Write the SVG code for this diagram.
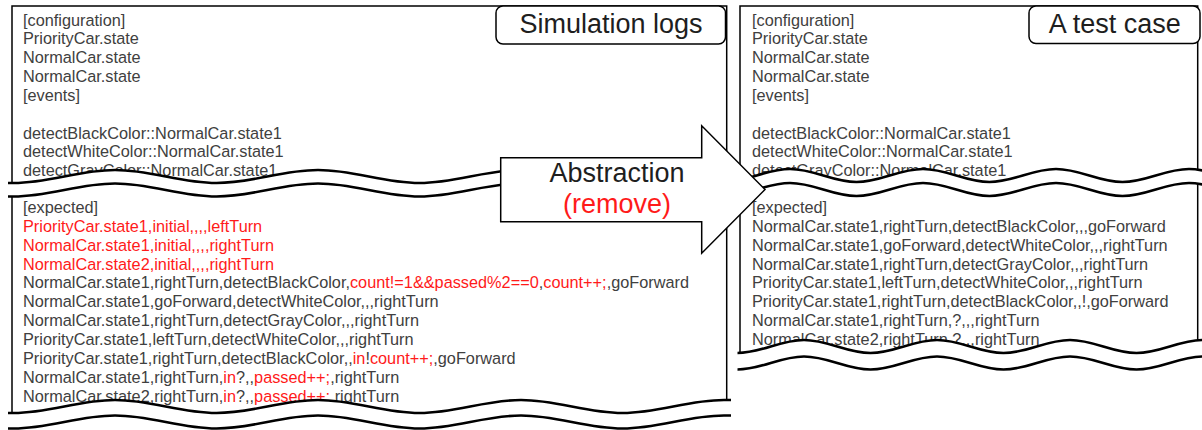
<svg xmlns="http://www.w3.org/2000/svg" xmlns:xlink="http://www.w3.org/1999/xlink" width="1202" height="430" viewBox="0 0 1202 430">
<style>
.t{font-family:"Liberation Sans",Arial,sans-serif;font-size:16.3px;fill:#404040}
.r{fill:#ff1a1a}
.big{font-family:"Liberation Sans",Arial,sans-serif;font-size:27px;fill:#1e1e1e;text-anchor:middle}
.bigr{fill:#ff1a1a}
.border{fill:none;stroke:#000;stroke-width:1.5}
.box{fill:#fff;stroke:#000;stroke-width:1.5}
.wave{fill:none;stroke:#000;stroke-width:2.6}
.band{fill:none;stroke:#fff}
</style>
<defs>
<path id="wl" d="M8,183 L13.5,183 C50.5,183 78,170 115,170 C152,170 179.5,183 216.5,183 C253.5,183 281,170 318,170 C355,170 382.5,183 419.5,183 C456.5,183 484,170 521,170 C558,170 585.5,183 622.5,183 C659.5,183 687,170 724,170 L731,170"/>
<path id="wrt" d="M723.5,182 C747.7,182 765.8,169 790,169 C814.2,169 832.3,182 856.5,182 C880.7,182 898.8,169 923,169 C947.2,169 965.3,182 989.5,182 C1013.7,182 1031.8,169 1056,169 C1080.2,169 1098.3,182 1122.5,182 C1146.7,182 1164.8,169 1189,169 C1213.2,169 1231.3,182 1255.5,182"/>
<path id="wrb" d="M737.5,353 C761.7,353 779.8,340 804,340 C828.2,340 846.3,353 870.5,353 C894.7,353 912.8,340 937,340 C961.2,340 979.3,353 1003.5,353 C1027.7,353 1045.8,340 1070,340 C1094.2,340 1112.3,353 1136.5,353 C1160.7,353 1178.8,340 1203,340"/>
</defs>

<g id="simulation-logs">
<path class="border" d="M12,414 V6 H726.7 V402"/>
<text class="t" x="23" y="25.5">[configuration]</text>
<text class="t" x="23" y="44.35">PriorityCar.state</text>
<text class="t" x="23" y="63.2">NormalCar.state</text>
<text class="t" x="23" y="82.05">NormalCar.state</text>
<text class="t" x="23" y="100.9">[events]</text>
<text class="t" x="23" y="138.6">detectBlackColor::NormalCar.state1</text>
<text class="t" x="23" y="157.45">detectWhiteColor::NormalCar.state1</text>
<text class="t" x="23" y="176.3">detectGrayColor::NormalCar.state1</text>
<text class="t" x="23" y="213">[expected]</text>
<text class="t r" x="23" y="231.85">PriorityCar.state1,initial,,,,leftTurn</text>
<text class="t r" x="23" y="250.7">NormalCar.state1,initial,,,,rightTurn</text>
<text class="t r" x="23" y="269.55">NormalCar.state2,initial,,,,rightTurn</text>
<text class="t" x="23" y="288.4">NormalCar.state1,rightTurn,detectBlackColor,<tspan class="r">count!=1&amp;&amp;passed%2==0</tspan>,<tspan class="r">count++;</tspan>,goForward</text>
<text class="t" x="23" y="307.25">NormalCar.state1,goForward,detectWhiteColor,,,rightTurn</text>
<text class="t" x="23" y="326.1">NormalCar.state1,rightTurn,detectGrayColor,,,rightTurn</text>
<text class="t" x="23" y="344.95">PriorityCar.state1,leftTurn,detectWhiteColor,,,rightTurn</text>
<text class="t" x="23" y="363.8">PriorityCar.state1,rightTurn,detectBlackColor,,<tspan class="r">in</tspan>!<tspan class="r">count++;</tspan>,goForward</text>
<text class="t" x="23" y="382.65">NormalCar.state1,rightTurn,<tspan class="r">in</tspan>?,,<tspan class="r">passed++;</tspan>,rightTurn</text>
<text class="t" x="23" y="401.5">NormalCar.state2,rightTurn,<tspan class="r">in</tspan>?,,<tspan class="r">passed++;</tspan>,rightTurn</text>
<use xlink:href="#wl" class="band" stroke-width="13.5" transform="translate(0,6.75)"/>
<use xlink:href="#wl" class="wave"/>
<use xlink:href="#wl" class="wave" transform="translate(0,13.5)"/>
<use xlink:href="#wl" class="band" stroke-width="15.5" transform="translate(0,237.75)"/>
<use xlink:href="#wl" class="wave" transform="translate(0,230)"/>
<use xlink:href="#wl" class="wave" transform="translate(0,245.5)"/>
<rect class="box" x="496" y="6" width="229.5" height="38" rx="7"/>
<text class="big" x="611" y="33.3">Simulation logs</text>
</g>

<g id="test-case">
<path class="border" d="M740,354 V6 H1197.7 V344"/>
<text class="t" x="752" y="25.5">[configuration]</text>
<text class="t" x="752" y="44.35">PriorityCar.state</text>
<text class="t" x="752" y="63.2">NormalCar.state</text>
<text class="t" x="752" y="82.05">NormalCar.state</text>
<text class="t" x="752" y="100.9">[events]</text>
<text class="t" x="752" y="138.6">detectBlackColor::NormalCar.state1</text>
<text class="t" x="752" y="157.45">detectWhiteColor::NormalCar.state1</text>
<text class="t" x="752" y="176.3">detectGrayColor::NormalCar.state1</text>
<text class="t" x="752" y="213">[expected]</text>
<text class="t" x="752" y="231.85">NormalCar.state1,rightTurn,detectBlackColor,,,goForward</text>
<text class="t" x="752" y="250.7">NormalCar.state1,goForward,detectWhiteColor,,,rightTurn</text>
<text class="t" x="752" y="269.55">NormalCar.state1,rightTurn,detectGrayColor,,,rightTurn</text>
<text class="t" x="752" y="288.4">PriorityCar.state1,leftTurn,detectWhiteColor,,,rightTurn</text>
<text class="t" x="752" y="307.25">PriorityCar.state1,rightTurn,detectBlackColor,,!,goForward</text>
<text class="t" x="752" y="326.1">NormalCar.state1,rightTurn,?,,,rightTurn</text>
<text class="t" x="752" y="344.95">NormalCar.state2,rightTurn,?,,,rightTurn</text>
<use xlink:href="#wrt" class="band" stroke-width="14" transform="translate(0,7)"/>
<use xlink:href="#wrt" class="wave"/>
<use xlink:href="#wrt" class="wave" transform="translate(0,14)"/>
<use xlink:href="#wrb" class="band" stroke-width="16.5" transform="translate(0,8.25)"/>
<use xlink:href="#wrb" class="wave"/>
<use xlink:href="#wrb" class="wave" transform="translate(0,16.5)"/>
<rect class="box" x="1029" y="6" width="171" height="37.5" rx="7"/>
<text class="big" x="1114.7" y="33">A test case</text>
</g>

<g id="connectors">
<g id="abstraction-arrow">
<polygon class="box" points="500.7,157.7 701.7,157.7 701.7,125.7 765,189.5 701.7,253.3 701.7,221.7 500.7,221.7"/>
<text class="big" x="617" y="182">Abstraction</text>
<text class="big bigr" x="617" y="213.3">(remove)</text>
</g>
</g>
</svg>
